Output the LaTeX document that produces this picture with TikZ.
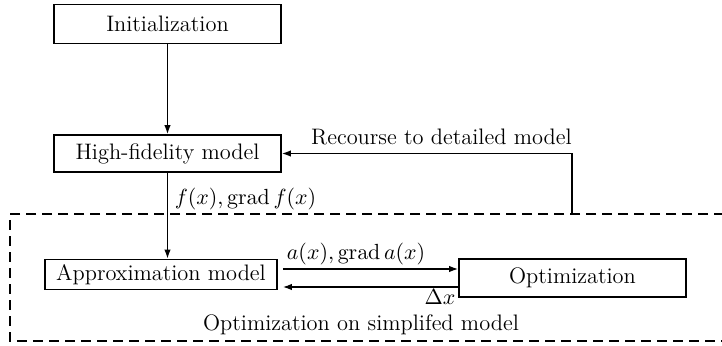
\documentclass[tikz,border=0pt]{standalone}
\usetikzlibrary{arrows.meta,calc}
\begin{document}
\begin{tikzpicture}[x=0.5pt,y=-0.5pt,
  every node/.style={font=\fontsize{11.2}{13}\selectfont},
  box/.style={draw,line width=0.8pt,minimum width=113.5pt,inner sep=2pt},
  arr/.style={line width=0.7pt,-{Latex[length=4.5pt,width=3.2pt]}},
  dsh/.style={line width=0.7pt,dash pattern=on 5pt off 3pt}]
\useasboundingbox (0,0) rectangle (722,345);
\node[box,minimum height=19.5pt] (init) at (167.5,24) {Initialization};
\node[box,minimum height=18.5pt] (hf) at (167.5,153.5) {High-fidelity model};
\node[box,minimum width=116pt,minimum height=15pt,inner sep=1pt] (apx) at (161,274.5) {Approximation model};
\node[box,minimum height=19pt] (opt) at (572.5,278) {Optimization};
\draw[dsh] (740,214) -- (10,214) -- (10,341) -- (740,341);
\coordinate (rc) at (572,214);
\draw[arr] (init) -- (hf);
\draw[arr] (rc) |- (hf.east) node[pos=0.725,above=0.5pt] {Recourse to detailed model};
\draw[arr] (hf) -- (apx.north -| hf.south) node[pos=0.3,right=0pt] {$f(x),\mathrm{grad}\,f(x)$};
\draw[arr,shorten <=2.5pt] ([yshift=4.5pt]opt.west -| apx.east) -- ([yshift=4.5pt]opt.west)
  node[pos=0.03,anchor=south west,inner sep=1.5pt] {$a(x),\mathrm{grad}\,a(x)$};
\draw[arr,shorten >=2.5pt] ([yshift=-4.5pt]opt.west) -- ([yshift=-4.5pt]opt.west -| apx.east)
  node[pos=0,anchor=north east,inner sep=1pt] {$\Delta x$};
\node (lab) at (361,325) {Optimization on simplifed model};
\end{tikzpicture}
\end{document}
